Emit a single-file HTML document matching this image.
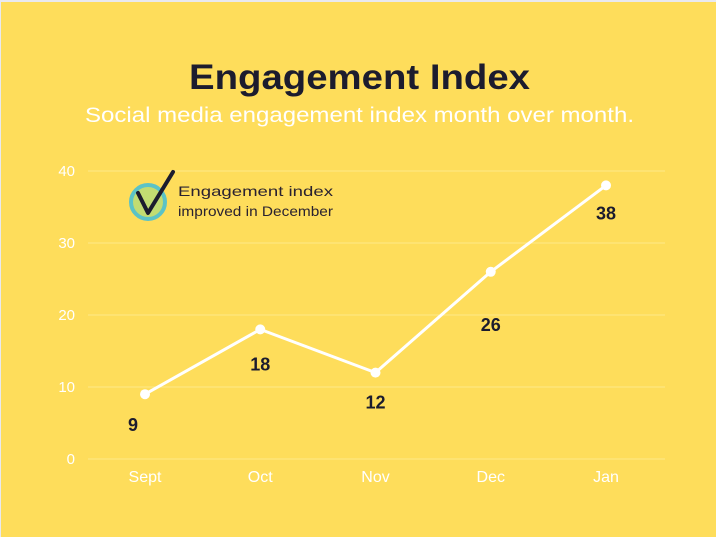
<!DOCTYPE html>
<html><head><meta charset="utf-8"><style>
html,body{margin:0;padding:0;background:#e9e9ef;}
#wrap{position:absolute;left:1px;top:2px;width:715px;height:535px;background:#FEDD5B;overflow:hidden;}
svg{position:absolute;left:0;top:0;}
</style></head><body>
<div id="wrap">
<svg id="chart" width="715" height="535" viewBox="1 2 715 535">
<text x="189" y="89" textLength="341" lengthAdjust="spacingAndGlyphs" font-family="Liberation Sans, sans-serif" font-weight="bold" font-size="35" fill="#1c1c2e">Engagement Index</text>
<text x="85" y="122" textLength="549" lengthAdjust="spacingAndGlyphs" font-family="Liberation Sans, sans-serif" font-size="21" fill="#ffffff">Social media engagement index month over month.</text>
<g id="grid"></g><g id="yt"></g><g id="xt"></g>
<polyline id="line" fill="none" stroke="#ffffff" stroke-width="3" stroke-linejoin="round"/>
<g id="pts"></g><g id="vals"></g>
<g>
<circle cx="148" cy="202" r="17" fill="#C2DC72" stroke="#5CC3C6" stroke-width="4"/>
<polyline points="138,193 148,213 173,172" fill="none" stroke="#1c1c2e" stroke-width="4" stroke-linecap="round" stroke-linejoin="round"/>
<text x="178" y="196" textLength="155" lengthAdjust="spacingAndGlyphs" font-family="Liberation Sans, sans-serif" font-size="14" fill="#2a2230">Engagement index</text>
<text x="178" y="216" textLength="155" lengthAdjust="spacingAndGlyphs" font-family="Liberation Sans, sans-serif" font-size="14" fill="#2a2230">improved in December</text>
</g>
</svg></div>
<script>
const categories=["Sept","Oct","Nov","Dec","Jan"];
const values=[9,18,12,26,38];
const yTicks=[0,10,20,30,40];
const NS="http://www.w3.org/2000/svg";
const y0=459,y1=171,ymax=40,x0=145,dx=115.25;
const labelGap=[37,41,36,59,34];
const X=i=>x0+i*dx, Y=v=>y0-(v/ymax)*(y0-y1);
function mk(t,a,p){const e=document.createElementNS(NS,t);for(const k in a)e.setAttribute(k,a[k]);p.appendChild(e);return e;}
const g=document.getElementById('grid'),yt=document.getElementById('yt'),xt=document.getElementById('xt');
yTicks.forEach(v=>{
 const l=mk('line',{x1:88,x2:665,y1:Y(v),y2:Y(v),stroke:'#ffe98a','stroke-width':1},g);
 
 
 const t=mk('text',{x:75,y:Y(v)+5,'text-anchor':'end','font-family':'Liberation Sans, sans-serif','font-size':15,fill:'#ffffff'},yt);
 t.textContent=v;
 
 
});
categories.forEach((c,i)=>{
 const t=mk('text',{x:X(i),y:482,'text-anchor':'middle','font-family':'Liberation Sans, sans-serif','font-size':16,fill:'#ffffff'},xt);
 t.textContent=c;
 
 
});
document.getElementById('line').setAttribute('points',values.map((v,i)=>X(i)+','+Y(v)).join(' '));
const pts=document.getElementById('pts'),vals=document.getElementById('vals');
values.forEach((v,i)=>{
 const c=mk('circle',{cx:X(i),cy:Y(v),r:5,fill:'#ffffff'},pts);
 
 
 const t=mk('text',{x:X(i)-(i==0?12:0),y:Y(v)+labelGap[i],'text-anchor':'middle','font-family':'Liberation Sans, sans-serif','font-weight':'bold','font-size':18,fill:'#1c1c2e'},vals);
 t.textContent=v;
 
 
});
</script>
</body></html>
